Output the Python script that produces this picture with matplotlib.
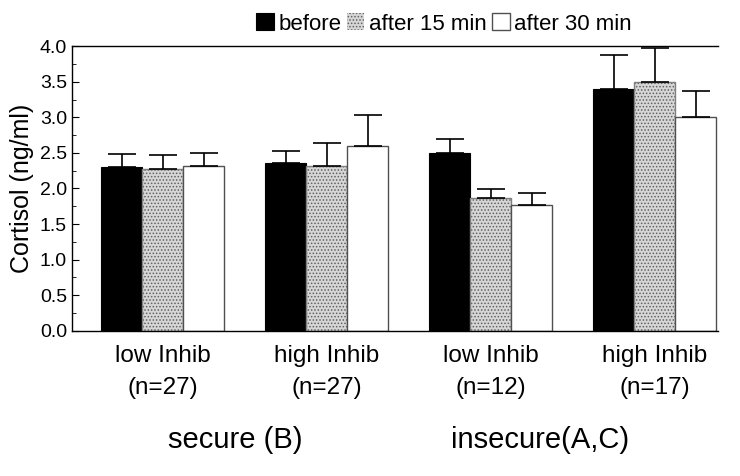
import numpy as np
import matplotlib
matplotlib.use('Agg')
import matplotlib.pyplot as plt
from matplotlib.ticker import MultipleLocator, FormatStrFormatter

plt.rcParams['font.family'] = ['Liberation Sans', 'DejaVu Sans']
plt.rcParams['hatch.color'] = '#606060'
plt.rcParams['hatch.linewidth'] = 0.7

groups = ['low Inhib\n(n=27)', 'high Inhib\n(n=27)', 'low Inhib\n(n=12)', 'high Inhib\n(n=17)']
series = ['before', 'after 15 min', 'after 30 min']
means_before = [2.30, 2.36, 2.50, 3.40]
means_15 = [2.28, 2.32, 1.87, 3.50]
means_30 = [2.32, 2.60, 1.77, 3.00]
sem_before = [0.18, 0.17, 0.20, 0.47]
sem_15 = [0.19, 0.32, 0.12, 0.47]
sem_30 = [0.18, 0.43, 0.17, 0.37]
attach = ['secure (B)', 'insecure(A,C)']

fig = plt.figure(figsize=(7.4, 4.76), dpi=100)
ax = fig.add_axes([0.097, 0.305, 0.873, 0.598])

x = np.arange(len(groups))
w = 0.25
means = [means_before, means_15, means_30]
sems = [sem_before, sem_15, sem_30]

# bars
b1 = ax.bar(x - w, means_before, w, color='black', edgecolor='black', linewidth=0.8, label=series[0])
b2 = ax.bar(x, means_15, w, color='#d6d6d6', hatch='.....', linewidth=0, label=series[1])
ax.bar(x, means_15, w, fill=False, edgecolor='#808080', linewidth=1.0)
b3 = ax.bar(x + w, means_30, w, color='white', edgecolor='#505050', linewidth=1.0, label=series[2])

# upper error bars only
for i, off in enumerate([-w, 0, w]):
    yerr = [np.zeros(len(groups)), sems[i]]
    ax.errorbar(x + off, means[i], yerr=yerr, fmt='none', ecolor='black',
                elinewidth=1.2, capsize=10, capthick=1.2)

ax.set_xlim(-0.555, 3.385)
ax.set_ylim(0, 4.0)
ax.yaxis.set_major_locator(MultipleLocator(0.5))
ax.yaxis.set_minor_locator(MultipleLocator(0.25))
ax.yaxis.set_major_formatter(FormatStrFormatter('%.1f'))
ax.tick_params(axis='y', direction='in', labelsize=14, length=5, width=0.8)
ax.tick_params(axis='y', which='minor', direction='in', length=3, width=0.6)
ax.set_xticks(x)
ax.set_xticklabels(groups, fontsize=17.5, linespacing=1.6)
ax.tick_params(axis='x', length=0, pad=10)
ax.spines['right'].set_visible(False)
for s in ['left', 'top', 'bottom']:
    ax.spines[s].set_linewidth(1.0)

ax.set_ylabel('Cortisol (ng/ml)', fontsize=18, labelpad=4)

ax.text(0.44, -0.385, attach[0], transform=ax.get_xaxis_transform(), ha='center', va='center', fontsize=21)
ax.text(2.3, -0.385, attach[1], transform=ax.get_xaxis_transform(), ha='center', va='center', fontsize=21)

fig.legend(handles=[b1, b2, b3], loc='upper center', bbox_to_anchor=(0.6, 1.0), ncol=3,
           frameon=False, fontsize=16, handlelength=0.8, handleheight=0.8,
           handletextpad=0.2, columnspacing=0.25, borderaxespad=0.2)

fig.savefig('out.png', dpi=100)
